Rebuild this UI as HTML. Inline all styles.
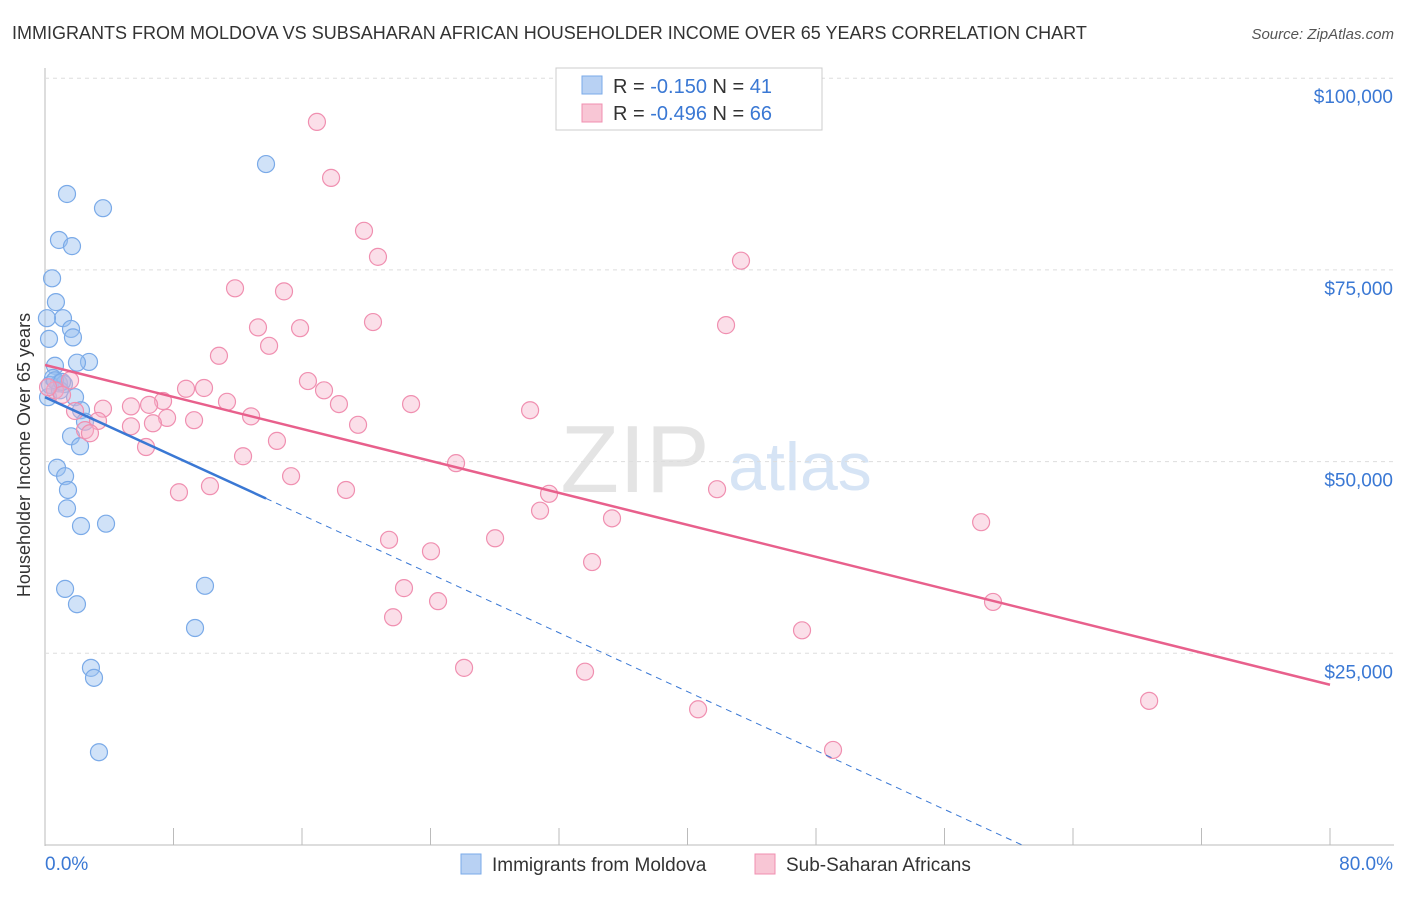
<!DOCTYPE html>
<html><head><meta charset="utf-8"><style>
body{margin:0;background:#fff;font-family:"Liberation Sans",sans-serif;}
svg text{font-family:"Liberation Sans",sans-serif;}
</style></head><body>
<svg id="c" width="1406" height="892">
<text x="12" y="39" font-size="18" fill="#333">IMMIGRANTS FROM MOLDOVA VS SUBSAHARAN AFRICAN HOUSEHOLDER INCOME OVER 65 YEARS CORRELATION CHART</text>
<text x="1394" y="39" font-size="15" fill="#555" font-style="italic" text-anchor="end">Source: ZipAtlas.com</text>
<text x="635" y="492" font-size="96" fill="#e4e4e4" font-family="Liberation Serif" text-anchor="middle">ZIP</text>
<text x="800" y="490" font-size="68" fill="#d6e4f5" text-anchor="middle">atlas</text>
<g id="grid"></g><g id="marks"></g>
<text x="30" y="455" font-size="18" fill="#333" text-anchor="middle" transform="rotate(-90 30 455)">Householder Income Over 65 years</text>
<g>
<rect x="556" y="68" width="266" height="62" fill="#fff" stroke="#ccc"/>
<rect x="582" y="76" width="20" height="18" fill="#b8d1f3" stroke="#7aaae8"/>
<rect x="582" y="104" width="20" height="18" fill="#f8c6d5" stroke="#f08fb0"/>
<text x="613" y="93" font-size="20" fill="#333">R = <tspan fill="#3a78d4">-0.150</tspan>   N = <tspan fill="#3a78d4">41</tspan></text>
<text x="613" y="120" font-size="20" fill="#333">R = <tspan fill="#3a78d4">-0.496</tspan>   N = <tspan fill="#3a78d4">66</tspan></text>
</g>
<g>
<rect x="461" y="854" width="20" height="20" fill="#b8d1f3" stroke="#7aaae8"/>
<text x="492" y="871" font-size="19" fill="#333">Immigrants from Moldova</text>
<rect x="755" y="854" width="20" height="20" fill="#f8c6d5" stroke="#f08fb0"/>
<text x="786" y="871" font-size="19" fill="#333">Sub-Saharan Africans</text>
</g>
</svg>
<script>
const xTicks=[0,8,16,24,32,40,48,56,64,72,80];
const yTicks=[25000,50000,75000,100000];
const yTickLabels=["$25,000","$50,000","$75,000","$100,000"];
const blueX=[1.37,3.61,0.87,1.68,0.44,0.68,1.12,0.12,1.62,1.74,0.25,0.62,2.74,1.99,0.50,0.87,1.18,0.19,1.87,2.24,2.49,1.62,2.18,0.75,1.25,1.43,1.37,2.24,3.80,1.25,1.99,2.86,3.05,3.36,13.76,9.96,9.34,0.31,0.93,0.62,1.06];
const blueY=[84900,83050,78900,78100,73900,70800,68700,68700,67300,66200,66000,62500,63000,62900,60900,60200,60100,58400,58400,56700,55200,53300,52000,49200,48100,46300,43900,41600,41900,33400,31400,23100,21800,12100,88800,33800,28300,60000,59300,60600,60400];
const pinkX=[16.93,17.81,19.86,20.73,43.33,11.83,14.88,13.26,15.88,13.95,20.42,42.40,10.83,16.37,17.37,8.78,9.90,7.35,11.33,18.30,22.79,30.20,5.35,6.48,3.61,12.83,9.28,7.60,6.72,19.49,5.35,3.30,2.49,2.80,6.29,12.33,14.44,15.32,8.34,10.27,18.74,25.59,31.38,30.82,41.84,35.30,21.42,28.02,24.03,34.06,22.35,24.47,21.67,58.28,59.02,47.13,26.09,33.62,40.66,68.74,49.06,1.56,0.62,1.06,0.19,1.87];
const pinkY=[94300,87000,80100,76700,76200,72600,72200,67500,67400,65100,68200,67800,63800,60500,59300,59500,59600,57900,57800,57500,57500,56700,57200,57400,56900,55900,55400,55700,55000,54800,54600,55300,54100,53700,51900,50700,52700,48100,46000,46800,46300,49800,45800,43600,46400,42600,39800,40000,38300,36900,33500,31800,29700,42100,31700,28000,23100,22600,17700,18800,12400,60600,59300,58700,59700,56600];
const blueTrend=[58400,-18400];
const pinkTrend=[62600,20900];
const X=v=>45+v/80*1285, Y=v=>845-v/25000*191.7;
const NS="http://www.w3.org/2000/svg";
const g=document.getElementById('grid'), m=document.getElementById('marks');
function mk(tag,attrs,parent){const e=document.createElementNS(NS,tag);for(const k in attrs)e.setAttribute(k,attrs[k]);parent.appendChild(e);return e;}
let ax=mk('line',{x1:45,y1:68,x2:45,y2:846,stroke:'#bbb'},g);


let bx=mk('line',{x1:45,y1:845,x2:1394,y2:845,stroke:'#bbb'},g);


xTicks.forEach(t=>{const l=mk('line',{x1:X(t),y1:828,x2:X(t),y2:845,stroke:'#bbb'},g);

});
yTicks.forEach((t,i)=>{const l=mk('line',{x1:45,y1:Y(t),x2:1394,y2:Y(t),stroke:'#ddd','stroke-dasharray':'4,4'},g);


const tx=mk('text',{x:1393,y:Y(t)+25,'font-size':19,fill:'#3a78d4','text-anchor':'end'},g);tx.textContent=yTickLabels[i];

});
let x0=mk('text',{x:45,y:870,'font-size':19,fill:'#3a78d4'},g);x0.textContent=xTicks[0].toFixed(1)+'%';


let x1=mk('text',{x:1393,y:870,'font-size':19,fill:'#3a78d4','text-anchor':'end'},g);x1.textContent=xTicks[xTicks.length-1].toFixed(1)+'%';


blueX.forEach((v,i)=>{const c=mk('circle',{cx:X(v),cy:Y(blueY[i]),r:8.5,fill:'rgba(150,190,240,0.45)',stroke:'#7aaae8','stroke-width':1.2},m);

});
pinkX.forEach((v,i)=>{const c=mk('circle',{cx:X(v),cy:Y(pinkY[i]),r:8.5,fill:'rgba(245,175,200,0.4)',stroke:'#f08fb0','stroke-width':1.2},m);

});
const by=x=>blueTrend[0]+(blueTrend[1]-blueTrend[0])*x/80;
const xs=Math.max(...blueX);
const xEnd=(0-blueTrend[0])/(blueTrend[1]-blueTrend[0])*80;
let bd=mk('line',{x1:X(xs),y1:Y(by(xs)),x2:X(xEnd),y2:Y(0),stroke:'#3a78d4','stroke-width':1,'stroke-dasharray':'6,5'},m);


let bl=mk('line',{x1:X(0),y1:Y(by(0)),x2:X(xs),y2:Y(by(xs)),stroke:'#3a78d4','stroke-width':2.5},m);


let pl=mk('line',{x1:X(0),y1:Y(pinkTrend[0]),x2:X(80),y2:Y(pinkTrend[1]),stroke:'#e8608c','stroke-width':2.5},m);


</script>
</body></html>
